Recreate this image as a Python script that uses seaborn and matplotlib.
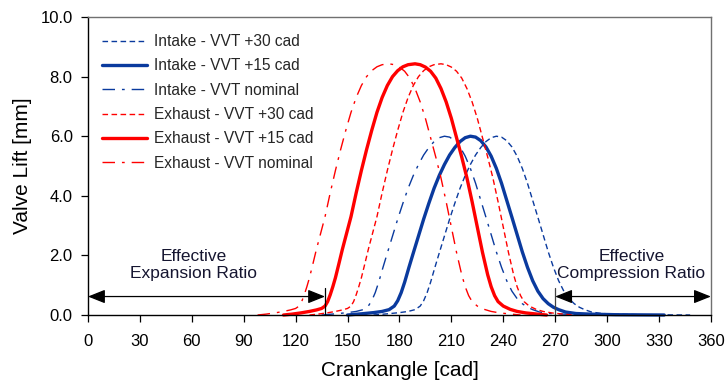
import matplotlib
matplotlib.use("Agg")
import matplotlib.pyplot as plt
import seaborn as sns
import pandas as pd

# Intake valve lift (mm) and crank angle (cad) for each timing setting
intake_lift = [0.0, 0.04, 0.08, 0.12, 0.18, 0.3, 0.48, 0.75, 1.1, 1.6,
               2.08, 2.65, 3.22, 3.75, 4.25, 4.68, 5.05, 5.37, 5.62, 5.82,
               5.95, 6.0, 5.97, 5.85, 5.64, 5.33, 4.92, 4.42, 3.85, 3.28,
               2.7, 2.12, 1.6, 1.15, 0.8, 0.55, 0.38, 0.26, 0.18, 0.1,
               0.05, 0.03, 0.01, 0.0]
intake_cad_p30 = [165, 173, 180, 185, 189, 192, 194, 196, 198, 200.5,
                  203, 206, 209, 212, 215, 218, 221, 224, 227, 230,
                  233, 236, 239, 242, 245, 248, 251, 254, 257, 260,
                  263, 266, 269, 272, 275, 278, 281, 284, 287, 291,
                  297, 305, 320, 348]
intake_cad_p15 = [150, 158, 165, 170, 174, 177, 179, 181, 183, 185.5,
                  188, 191, 194, 197, 200, 203, 206, 209, 212, 215,
                  218, 221, 224, 227, 230, 233, 236, 239, 242, 245,
                  248, 251, 254, 257, 260, 263, 266, 269, 272, 276,
                  282, 290, 305, 333]
intake_cad_nom = [135, 143, 150, 155, 159, 162, 164, 166, 168, 170.5,
                  173, 176, 179, 182, 185, 188, 191, 194, 197, 200,
                  203, 206, 209, 212, 215, 218, 221, 224, 227, 230,
                  233, 236, 239, 242, 245, 248, 251, 254, 257, 261,
                  267, 275, 290, 318]

# Exhaust valve lift (mm) and crank angle (cad) for each timing setting
exhaust_lift = [0.0, 0.03, 0.07, 0.12, 0.17, 0.22, 0.3, 0.45, 0.68, 0.95,
                1.25, 1.72, 2.2, 2.75, 3.3, 4.1, 4.85, 5.55, 6.2, 6.8,
                7.3, 7.7, 8.0, 8.2, 8.33, 8.4, 8.43, 8.4, 8.32, 8.18,
                7.95, 7.6, 7.15, 6.6, 5.95, 5.3, 4.6, 3.8, 2.95, 2.1,
                1.35, 0.95, 0.65, 0.45, 0.3, 0.19, 0.12, 0.07, 0.04, 0.0]
exhaust_cad_p30 = [128, 133, 138, 143, 147, 150, 152, 153.5, 155, 156.5,
                   158, 160, 162, 164.5, 167, 170, 173, 176, 179, 182,
                   185, 188, 191, 194, 197, 200, 204, 207, 210, 213,
                   216, 219, 222, 225, 228, 231, 234, 237, 240, 243,
                   246, 248, 250, 252, 255, 259, 263, 268, 273, 280]
exhaust_cad_p15 = [113, 118, 123, 128, 132, 135, 137, 138.5, 140, 141.5,
                   143, 145, 147, 149.5, 152, 155, 158, 161, 164, 167,
                   170, 173, 176, 179, 182, 185, 189, 192, 195, 198,
                   201, 204, 207, 210, 213, 216, 219, 222, 225, 228,
                   231, 233, 235, 237, 240, 244, 248, 253, 258, 265]
exhaust_cad_nom = [98, 103, 108, 113, 117, 120, 122, 123.5, 125, 126.5,
                   128, 130, 132, 134.5, 137, 140, 143, 146, 149, 152,
                   155, 158, 161, 164, 167, 170, 174, 177, 180, 183,
                   186, 189, 192, 195, 198, 201, 204, 207, 210, 213,
                   216, 218, 220, 222, 225, 229, 233, 238, 243, 250]

series_labels = ["Intake - VVT +30 cad", "Intake - VVT +15 cad", "Intake - VVT nominal",
                 "Exhaust - VVT +30 cad", "Exhaust - VVT +15 cad", "Exhaust - VVT nominal"]

x_ticks = list(range(0, 361, 30))
y_ticks = [0.0, 2.0, 4.0, 6.0, 8.0, 10.0]

# Effective expansion ends at exhaust opening, compression starts at intake closing
evo_cad = 137
ivc_cad = 270

sns.set_theme(style="ticks")
plt.rcParams["font.family"] = ["Liberation Sans", "DejaVu Sans"]

BLUE = "#0A3A9E"
RED = "#FF0000"
TEXT = "#151530"

fig = plt.figure(figsize=(7.26, 3.85), dpi=100)
ax = fig.add_axes([0.1212, 0.1818, 0.858, 0.774])

dashed = (0, (4, 2.5))
dashdot = (0, (9, 5, 2, 5))
curves = [
    (intake_cad_p30, intake_lift, BLUE, dashed, 1.0),
    (intake_cad_p15, intake_lift, BLUE, "-", 2.4),
    (intake_cad_nom, intake_lift, BLUE, dashdot, 1.0),
    (exhaust_cad_p30, exhaust_lift, RED, dashed, 1.0),
    (exhaust_cad_p15, exhaust_lift, RED, "-", 2.4),
    (exhaust_cad_nom, exhaust_lift, RED, dashdot, 1.0),
]

for (cad, lift, col, ls, lw), lab in zip(curves, series_labels):
    df = pd.DataFrame({"cad": cad, "lift": lift})
    sns.lineplot(data=df, x="cad", y="lift", ax=ax, color=col, linestyle=ls,
                 linewidth=lw, label=lab, estimator=None, sort=False,
                 clip_on=False, solid_joinstyle="round")

ax.set_xlim(0, 360)
ax.set_ylim(0, 10)
ax.set_xticks(x_ticks)
ax.set_xticklabels([str(v) for v in x_ticks])
ax.set_yticks(y_ticks)
ax.set_yticklabels([f"{v:.1f}" for v in y_ticks])
ax.tick_params(axis="both", labelsize=12, length=5, width=0.9, color="black",
               direction="out", labelcolor="black")
ax.tick_params(axis="x", pad=9)
ax.tick_params(axis="y", pad=6)
ax.set_xlabel("Crankangle [cad]", fontsize=15, color="black", labelpad=8)
ax.set_ylabel("Valve Lift [mm]", fontsize=15, color="black", labelpad=6)

for side in ["left", "bottom"]:
    ax.spines[side].set_color("black")
    ax.spines[side].set_linewidth(1.0)
for side in ["top", "right"]:
    ax.spines[side].set_visible(True)
    ax.spines[side].set_color("#707070")
    ax.spines[side].set_linewidth(1.0)

# Expansion / compression range arrows
arrow_kw = dict(arrowstyle="<|-|>,head_length=0.75,head_width=0.3", color="black",
                lw=0.9, shrinkA=0, shrinkB=0, mutation_scale=14)
ax.annotate("", xy=(0, 0.62), xytext=(evo_cad, 0.62), arrowprops=arrow_kw)
ax.annotate("", xy=(ivc_cad, 0.62), xytext=(360, 0.62), arrowprops=arrow_kw)
ax.plot([evo_cad, evo_cad], [0.05, 0.9], color="black", lw=0.9)
ax.plot([ivc_cad, ivc_cad], [0.0, 0.9], color="#444444", lw=0.9)

ax.text(61, 1.68, "Effective\nExpansion Ratio", ha="center", va="center",
        fontsize=12.5, color=TEXT, linespacing=1.15)
ax.text(314, 1.68, "Effective\nCompression Ratio", ha="center", va="center",
        fontsize=12.5, color=TEXT, linespacing=1.15)

ax.legend(loc="upper left", frameon=False, fontsize=11.2, handlelength=2.9,
          handletextpad=0.45, labelspacing=0.6, borderaxespad=0.5,
          bbox_to_anchor=(0.0, 0.99))

fig.savefig("out.png", dpi=100)
